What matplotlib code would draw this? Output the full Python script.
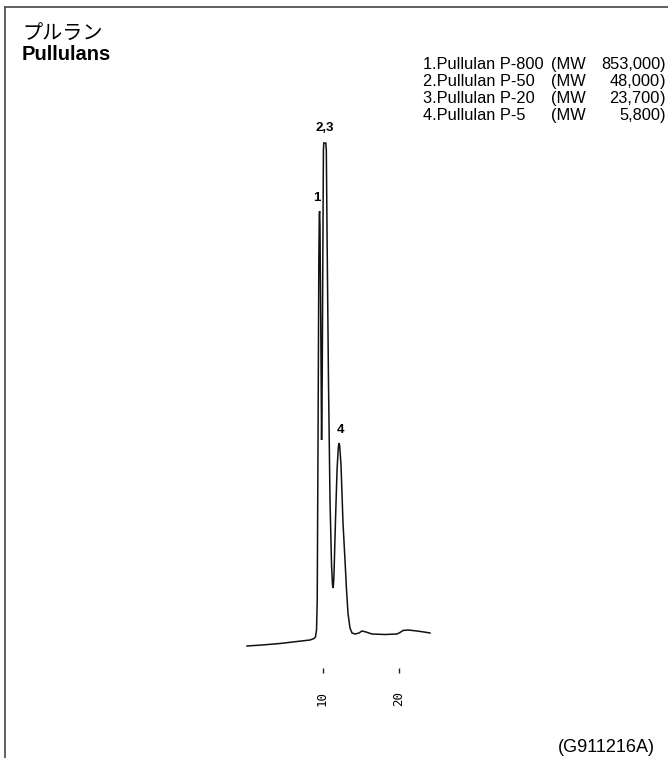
import matplotlib
matplotlib.use("Agg")
import matplotlib.pyplot as plt
from matplotlib.lines import Line2D

plt.rcParams['font.family'] = ['Liberation Sans', 'Noto Sans CJK JP', 'DejaVu Sans']

# ---- data (retention time in min, detector response in arbitrary units) ----
time_min = [0.13, 2.09, 4.44, 6.67, 8.37, 8.89, 9.08, 9.22, 9.31, 9.41, 9.52, 9.58,
            9.62, 9.67, 9.78, 9.88, 9.96, 10.07, 10.12, 10.17, 10.43, 10.50, 10.59,
            10.78, 10.98, 11.18, 11.31, 11.40, 11.50, 11.70, 11.90, 12.07, 12.16,
            12.25, 12.42, 12.68, 12.94, 13.14, 13.33, 13.59, 13.86, 14.25, 14.77,
            15.16, 15.69, 16.47, 18.17, 19.74, 20.13, 20.52, 21.18, 22.35, 23.27, 24.05]
response = [0, 1, 2.5, 4.5, 6, 7.5, 9, 16, 46, 196, 386, 431,
            435, 421, 316, 206, 266, 426, 496, 503, 503, 496, 416,
            266, 146, 81, 61, 58, 71, 126, 176, 199, 203,
            200, 181, 123, 86, 56, 33, 18, 13, 12, 13,
            15, 14, 12, 11.5, 12, 13.5, 15.5, 16, 15, 14, 13]

peak_labels = ["1", "2,3", "4"]
peak_times = [9.62, 10.30, 12.16]
peak_heights = [435, 503, 203]
peak_offsets_px = [(-2.5, 7), (0, 9), (1.5, 7)]

tick_values = [10, 20]
tick_labels = ["10", "20"]

legend_names = ["1.Pullulan P-800", "2.Pullulan P-50", "3.Pullulan P-20", "4.Pullulan P-5"]
legend_mw = ["853,000", "48,000", "23,700", "5,800"]

W, H = 668, 758
fig = plt.figure(figsize=(W / 100, H / 100), dpi=100)

def fx(px):
    return px / W

def fy(py):
    return 1 - py / H

# frame (top and left edges of a box cut off by the image)
fig.add_artist(Line2D([fx(4.5), 1.0], [fy(6.5), fy(6.5)], color='#555555', lw=1.3))
fig.add_artist(Line2D([fx(4.5), fx(4.5)], [fy(6.5), 0.0], color='#555555', lw=1.3))

# titles
fig.text(fx(22), fy(40), "プルラン", fontsize=14.5, family=['Noto Sans CJK JP', 'DejaVu Sans'],
         ha='left', va='baseline')
fig.text(fx(22), fy(60), "Pullulans", fontsize=14.5, fontweight='bold', ha='left', va='baseline')

# legend
LFS = 11.8
for i, (nm, mw) in enumerate(zip(legend_names, legend_mw)):
    y = fy(69 + 17 * i)
    fig.text(fx(423), y, nm, fontsize=LFS, ha='left', va='baseline')
    fig.text(fx(551), y, "(MW", fontsize=LFS, ha='left', va='baseline')
    fig.text(fx(660), y, mw, fontsize=LFS, ha='right', va='baseline')
    fig.text(fx(660), y, ")", fontsize=LFS, ha='left', va='baseline')

# footer
fig.text(fx(606), fy(752), "(G911216A)", fontsize=13, ha='center', va='baseline')

# chromatogram axes
ax_l, ax_r, ax_t, ax_b = 240, 440, 130, 650
ax = fig.add_axes([fx(ax_l), fy(ax_b), (ax_r - ax_l) / W, (ax_b - ax_t) / H])
ax.patch.set_alpha(0)
ax.plot(time_min, response, color='#111111', lw=1.1, solid_joinstyle='miter')
ax.set_xlim(10 + (ax_l - 322.5) / 7.65, 10 + (ax_r - 322.5) / 7.65)
ax.set_ylim(-4, 516)

for lab, t, h, (dx, dy) in zip(peak_labels, peak_times, peak_heights, peak_offsets_px):
    ax.annotate(lab, (t, h), xytext=(dx * 0.72, dy * 0.72), textcoords='offset points',
                ha='center', va='bottom', fontsize=9.5, fontweight='bold')

for s in ['top', 'right', 'left']:
    ax.spines[s].set_visible(False)
ax.spines['bottom'].set_position(('outward', 13))
ax.spines['bottom'].set_visible(False)
ax.set_yticks([])
ax.set_xticks(tick_values)
ax.set_xticklabels(tick_labels, rotation=90, family='DejaVu Sans Mono', fontsize=9)
ax.tick_params(axis='x', direction='out', length=3.8, width=1.0, pad=13, color='#222222')

fig.savefig("out.png", dpi=100)
